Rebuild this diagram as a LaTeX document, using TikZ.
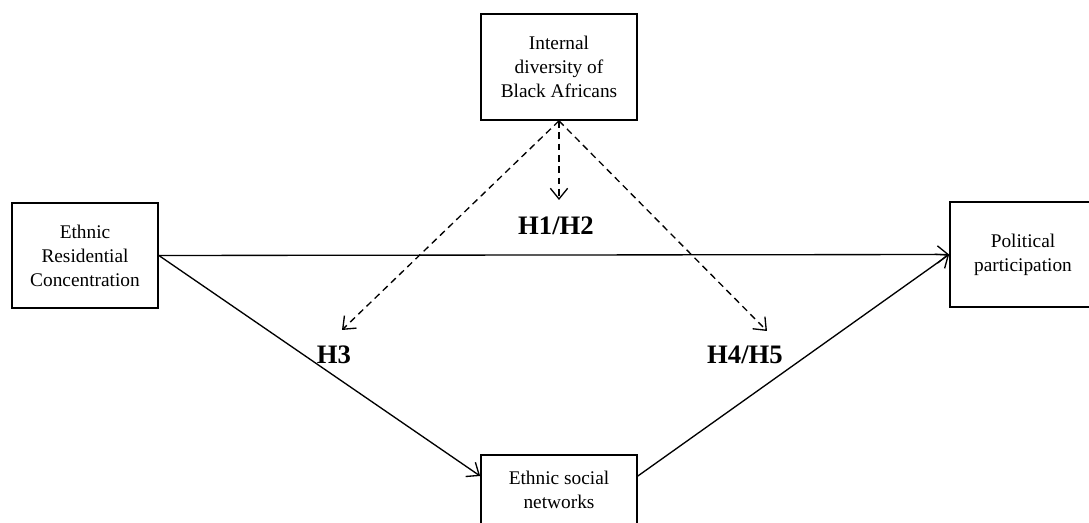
\documentclass[tikz,border=0pt]{standalone}
\usepackage{fontspec}
\setmainfont{Liberation Serif}
\usetikzlibrary{arrows.meta}
\begin{document}
\begin{tikzpicture}[x=0.75pt,y=-0.75pt,
  box/.style={draw, line width=1.3pt, align=center, inner sep=0pt,
    font=\fontsize{14.5}{18}\selectfont},
  link/.style={line width=1pt, -{Straight Barb[length=8pt,width=13pt]}},
  dlink/.style={link, dash pattern=on 5pt off 3.5pt},
  hyp/.style={font=\fontsize{20}{24}\selectfont\bfseries, anchor=base, inner sep=0pt}]
\useasboundingbox (0,0) rectangle (1089,523);
\clip (0,0) rectangle (1089,523);
\node[box, minimum width=117pt, minimum height=79.5pt] (top) at (559,67) {Internal\\diversity of\\Black Africans};
\node[box, minimum width=109.5pt, minimum height=78.75pt] (left) at (85,255.5) {Ethnic\\Residential\\Concentration};
\node[box, minimum width=109.5pt, minimum height=78.75pt] (right) at (1023,254.5) {Political\\participation};
\node[box, minimum width=117pt, minimum height=52.5pt] (bot) at (559,490) {Ethnic social\\networks};
\coordinate (e12) at (559,200);
\coordinate (e3) at (342,330);
\coordinate (e45) at (767,331);
\draw[link] (left.east) -- (right.west);
\draw[link] (left.east) -- ([yshift=10.5pt]bot.west);
\draw[link] ([yshift=10.5pt]bot.east) -- (right.west);
\draw[dlink] (top.south) -- (e12);
\draw[dlink] (top.south) -- (e3);
\draw[dlink] (top.south) -- (e45);
\node[hyp] (h12) at (556,235) {H1/H2};
\node[hyp] (h3) at (334,364) {H3};
\node[hyp] (h45) at (745,364) {H4/H5};
\end{tikzpicture}
\end{document}
